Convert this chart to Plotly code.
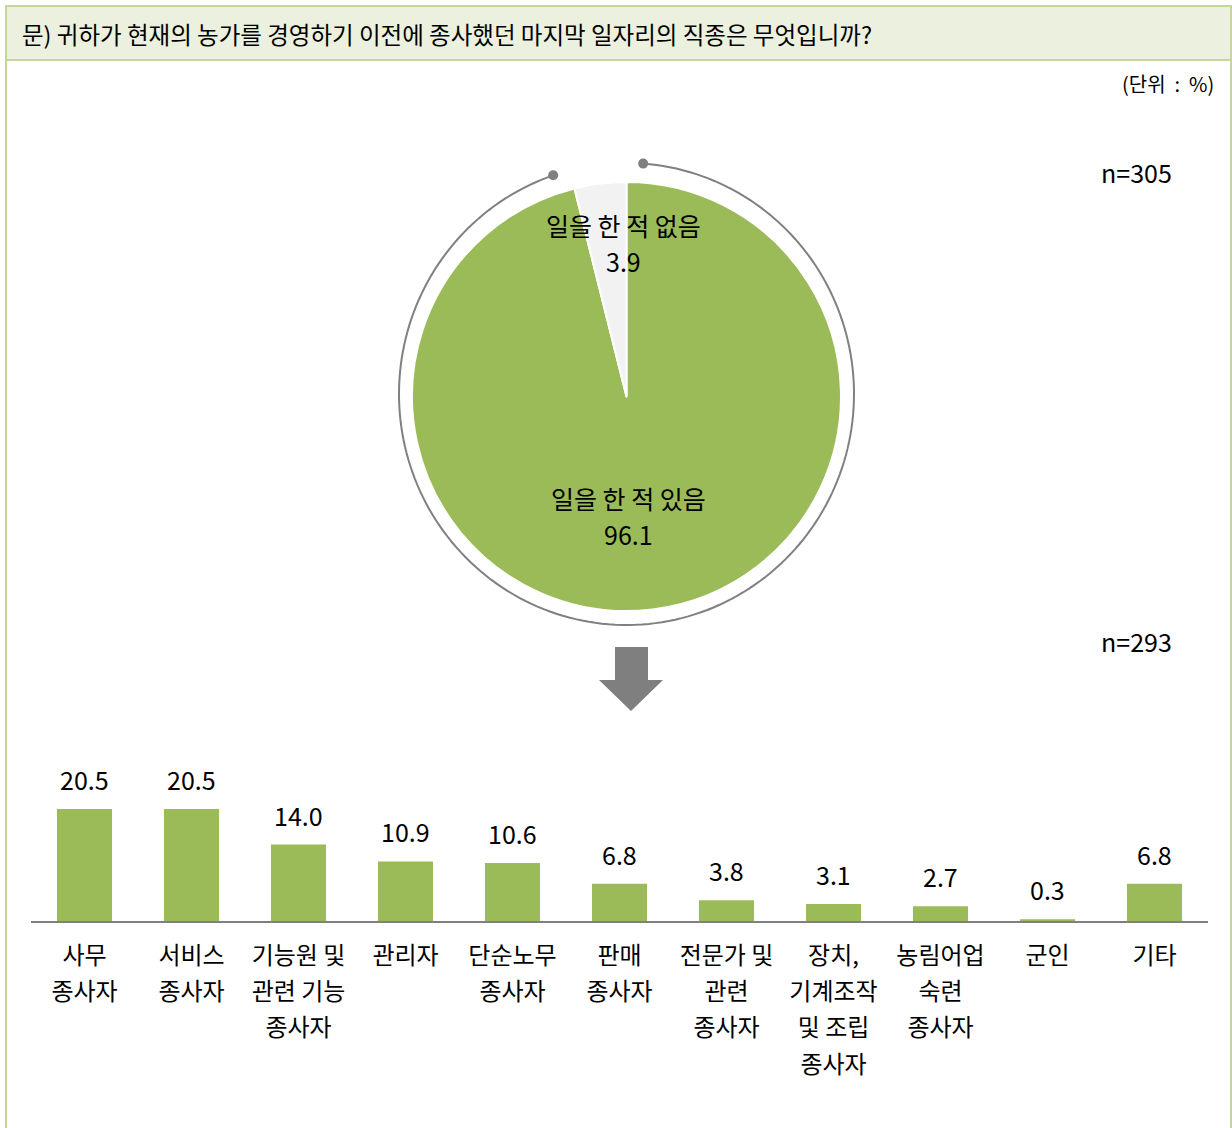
import math
import plotly.graph_objects as go

W, H = 1232, 1128
FONT = "Noto Sans CJK KR"
GREEN = "#9BBB59"
GRAY_SLICE = "#F2F2F2"
DARK = "#000000"

# ---- data ----
title_text = "문) 귀하가 현재의 농가를 경영하기 이전에 종사했던 마지막 일자리의 직종은 무엇입니까?"
unit_text = "(단위\u00a0\u00a0:\u00a0\u00a0%)"
pie_labels = ["일을 한 적 있음", "일을 한 적 없음"]
pie_values = [96.1, 3.9]
pie_n = "n=305"
bar_n = "n=293"
bar_categories = [
    ["사무", "종사자"],
    ["서비스", "종사자"],
    ["기능원 및", "관련 기능", "종사자"],
    ["관리자"],
    ["단순노무", "종사자"],
    ["판매", "종사자"],
    ["전문가 및", "관련", "종사자"],
    ["장치,", "기계조작", "및 조립", "종사자"],
    ["농림어업", "숙련", "종사자"],
    ["군인"],
    ["기타"],
]
bar_values = [20.5, 20.5, 14.0, 10.9, 10.6, 6.8, 3.8, 3.1, 2.7, 0.3, 6.8]


def px_x(x):
    return x / W


def px_y(y):
    return 1 - y / H


def multiline(lines, size=24):
    return "<br>".join(f'<span style="font-size:{size}px">{l}</span>' for l in lines)


fig = go.Figure()

# ---- pie ----
cx, cy, r = 626.5, 396.5, 214.5
fig.add_trace(go.Pie(
    labels=pie_labels, values=pie_values, sort=False, direction="clockwise",
    rotation=0, textinfo="none", hoverinfo="label+value",
    marker=dict(colors=[GREEN, GRAY_SLICE], line=dict(color="white", width=2)),
    domain=dict(x=[px_x(cx - r), px_x(cx + r)], y=[px_y(cy + r), px_y(cy - r)]),
    showlegend=False,
))

# ---- bars ----
xs = list(range(len(bar_values)))
fig.add_trace(go.Bar(
    x=xs, y=bar_values, width=0.515, marker=dict(color=GREEN, line=dict(width=0)),
    showlegend=False, hoverinfo="y",
))

px_per_unit = 5.46
y_top_val = 25
base_y = 921
top_y = base_y - y_top_val * px_per_unit

fig.update_layout(
    width=W, height=H, margin=dict(l=0, r=0, t=0, b=0),
    paper_bgcolor="white", plot_bgcolor="rgba(0,0,0,0)",
    font=dict(family=FONT, color=DARK),
    xaxis=dict(
        domain=[px_x(31), px_x(1208)], range=[-0.5, len(bar_values) - 0.5],
        tickmode="array", tickvals=xs,
        ticktext=[multiline(c) for c in bar_categories],
        tickfont=dict(size=28, family=FONT, color=DARK),
        ticklabelstandoff=7,
        showline=True, linecolor="#808080", linewidth=2, layer="above traces",
        showgrid=False, zeroline=False, ticks="", fixedrange=True,
    ),
    yaxis=dict(
        domain=[px_y(base_y), px_y(top_y)], range=[0, y_top_val],
        visible=False, showgrid=False, zeroline=False, fixedrange=True,
    ),
    xaxis2=dict(domain=[0, 1], range=[0, W], visible=False, anchor="y2", fixedrange=True),
    yaxis2=dict(domain=[0, 1], range=[H, 0], visible=False, anchor="x2", fixedrange=True),
)

# bar value labels
for x, v in zip(xs, bar_values):
    fig.add_annotation(x=x, y=v, xref="x", yref="y", text=f"{v:.1f}",
                       showarrow=False, yanchor="bottom", yshift=10,
                       font=dict(size=25, family=FONT, color=DARK))

shapes = []
# frame
shapes.append(dict(type="line", xref="x2", yref="y2", x0=6, x1=6, y0=6, y1=H,
                   line=dict(color="#C3D69B", width=2)))
shapes.append(dict(type="line", xref="x2", yref="y2", x0=1231, x1=1231, y0=6, y1=H,
                   line=dict(color="#C3D69B", width=2)))
shapes.append(dict(type="rect", xref="x2", yref="y2", x0=6, x1=1231, y0=6, y1=60,
                   fillcolor="#EBF1DE", line=dict(color="#C3D69B", width=2), layer="below"))

# arc around pie
acx, acy, aa, ab = 626.5, 394, 227.5, 231
t0, t1 = 4.2, 341.2
pts = []
n = 200
for i in range(n + 1):
    t = math.radians(t0 + (t1 - t0) * i / n)
    pts.append((acx + aa * math.sin(t), acy - ab * math.cos(t)))
path = "M " + " L ".join(f"{x:.2f},{y:.2f}" for x, y in pts)
shapes.append(dict(type="path", xref="x2", yref="y2", path=path,
                   line=dict(color="#808080", width=2)))
for (x, y) in (pts[0], pts[-1]):
    shapes.append(dict(type="circle", xref="x2", yref="y2", x0=x - 5, x1=x + 5,
                       y0=y - 5, y1=y + 5, fillcolor="#808080", line=dict(width=0)))

# arrow
arrow = "M 615,647 L 648,647 L 648,680 L 663,680 L 631,711 L 599,680 L 615,680 Z"
shapes.append(dict(type="path", xref="x2", yref="y2", path=arrow,
                   fillcolor="#7F7F7F", line=dict(width=0)))
fig.update_layout(shapes=shapes)

# texts
fig.add_annotation(x=20, y=34, xref="x2", yref="y2", text=title_text, showarrow=False,
                   xanchor="left", yanchor="middle", font=dict(size=23.5, family=FONT, color=DARK))
fig.add_annotation(x=1216, y=83, xref="x2", yref="y2", text=unit_text, showarrow=False,
                   xanchor="right", yanchor="middle", font=dict(size=20, family=FONT, color=DARK))
fig.add_annotation(x=1174, y=172, xref="x2", yref="y2", text=pie_n, showarrow=False,
                   xanchor="right", yanchor="middle", font=dict(size=25, family=FONT, color=DARK))
fig.add_annotation(x=1174, y=641, xref="x2", yref="y2", text=bar_n, showarrow=False,
                   xanchor="right", yanchor="middle", font=dict(size=25, family=FONT, color=DARK))

fig.add_annotation(x=628, y=516, xref="x2", yref="y2",
                   text=multiline([pie_labels[0], f"{pie_values[0]:.1f}"], 25), showarrow=False,
                   xanchor="center", yanchor="middle", font=dict(size=28, family=FONT, color=DARK))
fig.add_annotation(x=623, y=243, xref="x2", yref="y2",
                   text=multiline([pie_labels[1], f"{pie_values[1]:.1f}"], 25), showarrow=False,
                   xanchor="center", yanchor="middle", font=dict(size=28, family=FONT, color=DARK))

fig.write_html("out.html", config={"displayModeBar": False},
               post_script="document.body.style.margin='0';document.body.style.overflow='hidden';")
